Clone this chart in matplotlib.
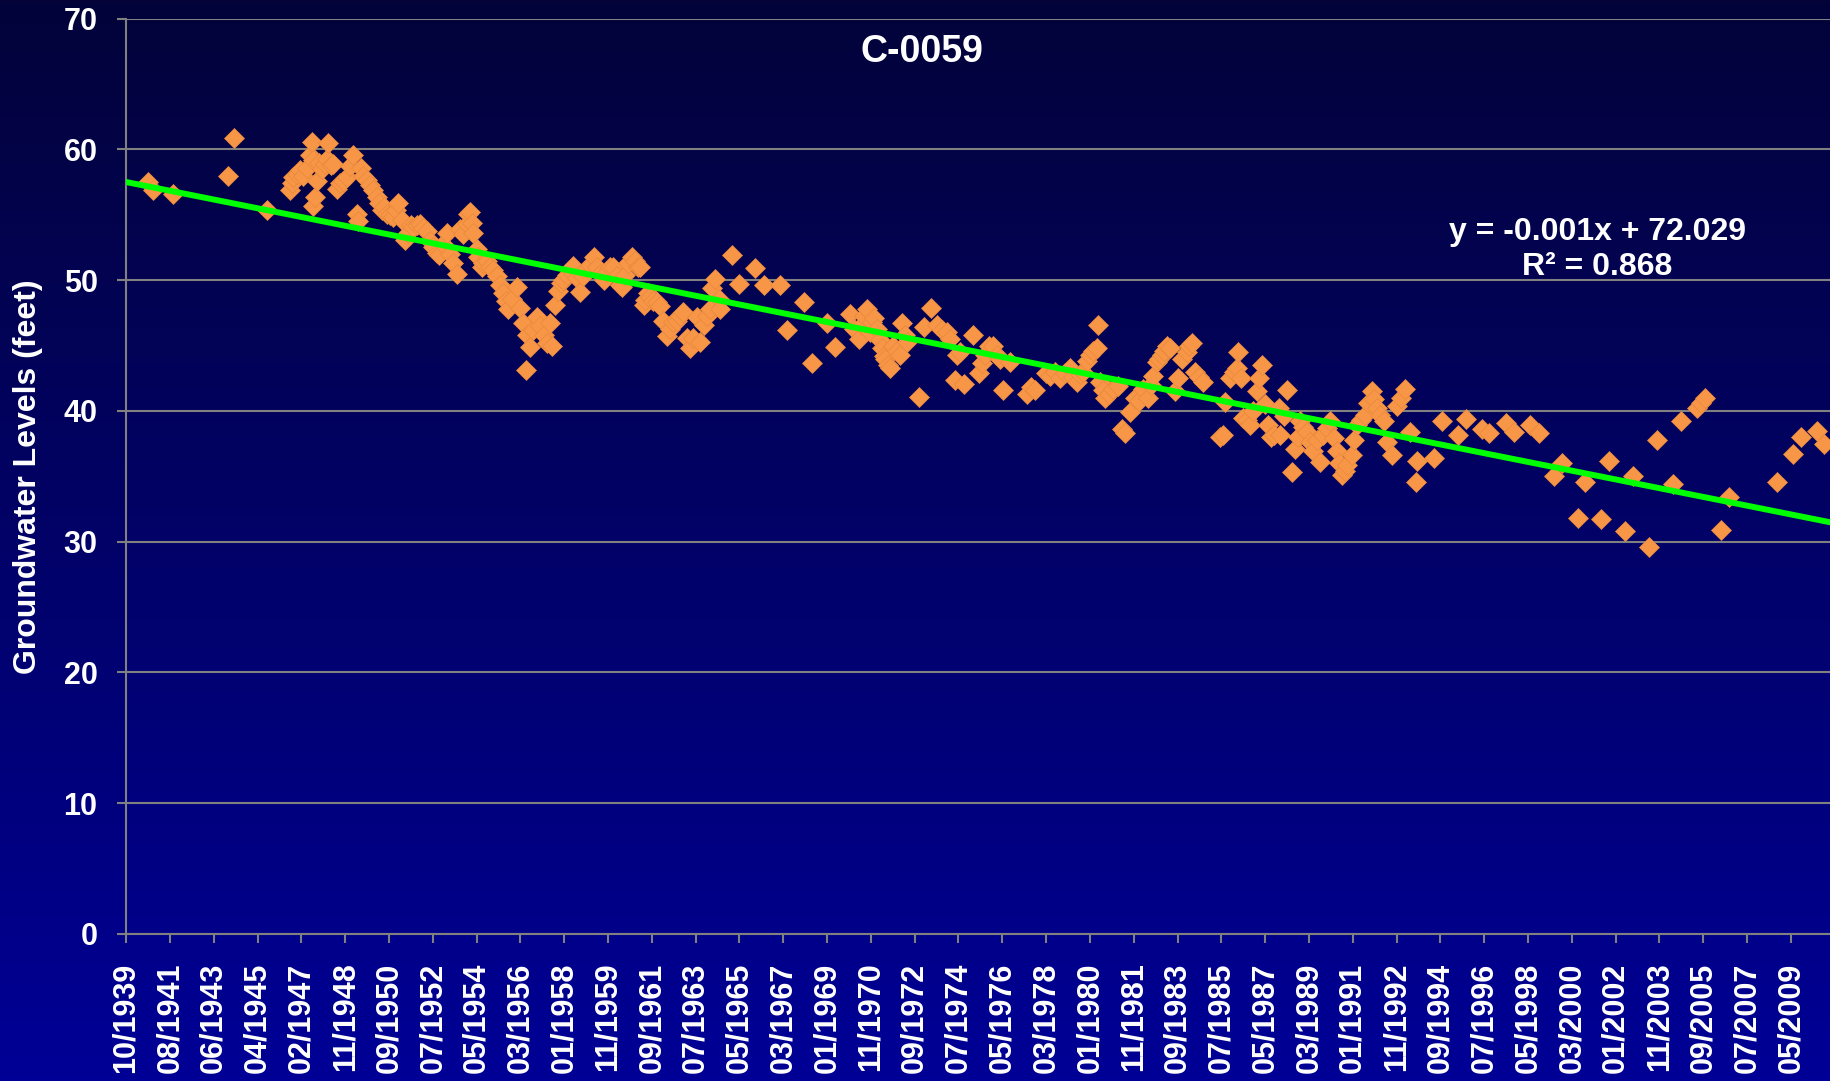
import numpy as np
import pandas as pd
import matplotlib
matplotlib.use('Agg')
import matplotlib.pyplot as plt
import matplotlib.dates as mdates
from matplotlib.colors import LinearSegmentedColormap
from datetime import datetime, timedelta

plt.rcParams['font.family'] = ['Liberation Sans', 'DejaVu Sans']
plt.rcParams['font.weight'] = 'bold'

# Niveles de agua subterránea (año decimal, pies)
years = [
    1940.68, 1940.89, 1941.70, 1944.02, 1944.28, 1945.63,
    1946.60, 1946.67, 1946.74, 1946.88, 1947.02, 1947.15, 1947.30, 1947.44, 1947.51, 1947.58,
    1947.58, 1947.65, 1947.72, 1947.80, 1947.95, 1948.08, 1948.14, 1948.21, 1948.30, 1948.41,
    1948.55, 1948.69, 1948.83, 1948.97, 1949.11, 1949.25, 1949.39, 1949.46, 1949.55, 1949.67,
    1949.81, 1949.95, 1950.09, 1950.23, 1950.34, 1950.44, 1950.54, 1950.64, 1950.78, 1950.92,
    1951.02, 1951.13, 1951.27, 1951.41, 1951.55, 1951.66, 1951.76, 1951.90, 1952.04, 1952.18,
    1952.32, 1952.46, 1952.60, 1952.73, 1952.81, 1953.00, 1953.15, 1953.29, 1953.43, 1953.57,
    1953.71, 1953.85, 1953.99, 1954.06, 1954.13, 1954.20, 1954.27, 1954.41, 1954.48, 1954.62,
    1954.69, 1954.83, 1954.97, 1955.10, 1955.24, 1955.38, 1955.52, 1955.62, 1955.73, 1955.90,
    1956.08, 1956.22, 1956.36, 1956.47, 1956.50, 1956.64, 1956.78, 1956.92, 1957.05, 1957.20,
    1957.33, 1957.47, 1957.55, 1957.68, 1957.82, 1957.93, 1958.03, 1958.17, 1958.31, 1958.45,
    1958.59, 1958.73, 1958.87, 1959.01, 1959.15, 1959.29, 1959.43, 1959.57, 1959.71, 1959.85,
    1960.00, 1960.12, 1960.26, 1960.40, 1960.47, 1960.61, 1960.75, 1960.89, 1961.03, 1961.15,
    1961.24, 1961.38, 1961.45, 1961.58, 1961.65, 1961.79, 1961.93, 1962.07, 1962.21, 1962.35,
    1962.49, 1962.63, 1962.77, 1962.91, 1963.05, 1963.20, 1963.33, 1963.47, 1963.61, 1963.75,
    1963.89, 1964.03, 1964.17, 1964.24, 1964.38, 1964.52, 1964.59,
    1965.07, 1965.39, 1966.05, 1966.40, 1967.07, 1967.40, 1968.07, 1968.42, 1969.05, 1969.39,
    1970.02, 1970.20, 1970.37, 1970.50, 1970.58, 1970.72, 1970.86, 1970.93, 1971.00, 1971.14,
    1971.25, 1971.35, 1971.42, 1971.49, 1971.62, 1971.69, 1971.83, 1971.97, 1972.11, 1972.18,
    1972.30, 1972.39, 1972.91, 1973.09, 1973.39, 1973.65, 1973.85, 1974.06, 1974.20, 1974.41,
    1974.48, 1974.62, 1974.76, 1975.15, 1975.39, 1975.53, 1975.67, 1975.81,
    1976.01, 1976.15, 1976.29, 1976.43, 1976.71, 1977.40, 1977.60, 1977.75, 1978.20, 1978.38,
    1978.60, 1978.80, 1979.00, 1979.21, 1979.35, 1979.49, 1979.63, 1979.77, 1979.91, 1980.05,
    1980.19, 1980.33, 1980.40, 1980.47, 1980.58, 1980.68, 1980.85, 1981.03, 1981.20, 1981.40,
    1981.50, 1981.72, 1981.93, 1982.10, 1982.28, 1982.49, 1982.60, 1982.70, 1982.84, 1982.95,
    1983.05, 1983.15, 1983.26, 1983.40, 1983.61, 1983.74, 1983.90, 1984.09, 1984.20, 1984.30,
    1984.44, 1984.60, 1984.79, 1985.49, 1985.60, 1985.70, 1985.90, 1986.05, 1986.18, 1986.25,
    1986.35, 1986.46, 1986.60, 1986.74, 1986.88, 1987.02, 1987.13, 1987.23, 1987.37, 1987.51,
    1987.62, 1987.72, 1987.93,
    1988.00, 1988.14, 1988.28, 1988.49, 1988.63, 1988.74, 1988.84, 1988.97, 1989.11, 1989.25,
    1989.39, 1989.53, 1989.67, 1989.81, 1989.95, 1990.09, 1990.23, 1990.37, 1990.47, 1990.58,
    1990.69, 1990.79, 1991.00, 1991.10, 1991.21, 1991.38, 1991.55, 1991.69, 1991.83, 1991.94,
    1992.04, 1992.18, 1992.32, 1992.46, 1992.67, 1992.88, 1993.05, 1993.23, 1993.44, 1993.67,
    1993.71, 1994.41, 1994.76, 1995.43, 1995.75, 1996.43, 1996.75, 1997.45, 1997.76, 1998.45,
    1998.80, 1999.43, 1999.78,
    2000.47, 2000.75, 2001.42, 2001.76, 2002.42, 2002.77, 2003.42, 2003.77, 2004.41, 2004.76,
    2005.42, 2005.58, 2005.74, 2006.43, 2006.78, 2008.76, 2009.42, 2009.76, 2010.43, 2010.74,
]
levels = [
    57.5, 56.9, 56.6, 58.0, 60.9, 55.4,
    56.9, 57.4, 57.9, 58.1, 58.4, 58.0, 58.6, 59.6, 60.6, 59.2,
    55.7, 56.4, 57.6, 59.0, 58.5, 58.9, 59.3, 60.5, 58.8, 58.9,
    57.0, 57.4, 57.6, 57.9, 58.7, 59.6, 55.1, 54.5, 58.6, 58.0,
    57.7, 57.3, 56.9, 56.4, 55.9, 55.4, 55.6, 55.1, 55.0, 54.8,
    55.4, 55.9, 54.6, 53.05, 53.6, 54.2, 54.1, 54.2, 54.3, 54.0,
    53.8, 53.0, 52.55, 52.1, 51.9, 52.8, 53.6, 52.0, 51.3, 50.5,
    53.9, 53.5, 54.3, 55.1, 55.2, 54.4, 53.6, 52.4, 51.8, 51.0,
    51.3, 51.5, 51.0, 50.8, 50.3, 49.6, 49.0, 48.4, 47.8, 48.6,
    49.5, 47.9, 46.7, 43.1, 45.8, 44.9, 46.2, 47.2, 46.5, 45.8,
    45.2, 46.7, 45.0, 48.1, 49.2, 49.8, 50.0, 50.4, 50.8, 51.1,
    50.2, 49.1, 50.3, 50.9, 51.2, 51.8, 51.0, 50.5, 50.0, 50.6,
    51.0, 51.0, 50.3, 49.6, 49.5, 50.4, 51.3, 51.8, 51.5, 51.0,
    51.0, 48.1, 48.5, 49.0, 48.7, 48.4, 48.35, 48.0, 46.9, 45.7,
    46.3, 46.8, 46.9, 47.3, 47.6, 45.6, 44.8, 45.6, 47.2, 45.3,
    46.55, 47.3, 47.8, 49.4, 50.1, 48.6, 47.8,
    51.9, 49.7, 50.9, 49.6, 49.6, 46.2, 48.3, 43.7, 46.7, 44.9,
    47.4, 46.3, 45.5, 46.6, 47.3, 47.8, 46.05, 46.8, 47.1, 46.3,
    45.4, 44.8, 44.2, 44.0, 43.5, 43.25, 45.0, 44.6, 44.3, 46.7,
    45.8, 45.3, 41.1, 46.4, 47.9, 46.55, 46.2, 46.05, 45.5, 42.35,
    44.3, 44.5, 42.1, 45.8, 42.9, 43.7, 44.3, 45.0,
    45.0, 44.3, 44.0, 41.6, 43.75, 41.3, 41.8, 41.6, 42.9, 42.7,
    43.0, 42.5, 42.9, 43.3, 42.6, 42.2, 42.8, 43.0, 43.8, 44.3,
    44.6, 44.8, 46.6, 42.2, 41.6, 41.0, 41.3, 41.7, 41.9, 38.6,
    38.3, 39.9, 41.0, 40.8, 41.7, 41.0, 42.0, 42.7, 43.75, 44.0,
    44.3, 44.6, 45.0, 44.8, 41.5, 42.5, 44.0, 44.5, 45.0, 45.2,
    43.0, 42.6, 42.2, 38.0, 38.2, 40.7, 42.5, 43.0, 43.25, 44.5,
    42.5, 39.5, 39.3, 38.9, 40.0, 41.5, 42.5, 43.5, 40.5, 38.9,
    38.0, 38.15, 40.2,
    38.15, 39.6, 41.6, 35.3, 37.1, 38.0, 39.2, 38.8, 38.4, 37.6,
    36.9, 37.8, 36.1, 38.15, 38.7, 39.2, 37.9, 36.9, 36.0, 35.1,
    35.4, 35.9, 36.6, 37.8, 38.9, 39.3, 39.7, 40.6, 41.5, 40.9,
    40.2, 39.7, 39.2, 37.6, 36.6, 40.4, 41.0, 41.7, 38.4, 34.6,
    36.2, 36.4, 39.2, 38.15, 39.4, 38.65, 38.3, 39.1, 38.4, 38.9,
    38.3, 35.0, 36.0,
    31.8, 34.6, 31.7, 36.2, 30.8, 35.0, 29.6, 37.8, 34.4, 39.2,
    40.2, 40.6, 41.0, 30.9, 33.4, 34.6, 36.7, 38.0, 38.5, 37.5,
]

# Etiquetas del eje X tal como aparecen en el gráfico
tick_labels = [
    '10/1939', '08/1941', '06/1943', '04/1945', '02/1947', '11/1948', '09/1950', '07/1952',
    '05/1954', '03/1956', '01/1958', '11/1959', '09/1961', '07/1963', '05/1965', '03/1967',
    '01/1969', '11/1970', '09/1972', '07/1974', '05/1976', '03/1978', '01/1980', '11/1981',
    '09/1983', '07/1985', '05/1987', '03/1989', '01/1991', '11/1992', '09/1994', '07/1996',
    '05/1998', '03/2000', '01/2002', '11/2003', '09/2005', '07/2007', '05/2009',
]

# Línea de tendencia de Excel (x = número de serie de fecha)
trend_slope = -0.001
trend_intercept = 72.029
trend_label = ['y = -0.001x + 72.029', 'R² = 0.868']

# Eje de fechas: una marca cada 669 días desde 10/1939
start_date = datetime(1939, 10, 1)
tick_step_days = 669
end_date = start_date + timedelta(days=26020)

dates = pd.to_datetime('1939-01-01') + pd.to_timedelta((np.array(years) - 1939) * 365.25, unit='D')

fig = plt.figure(figsize=(18.3, 10.81), dpi=100)

# Fondo degradado
bg = fig.add_axes([0, 0, 1, 1])
cmap = LinearSegmentedColormap.from_list('fondo', ['#03033A', '#000096'])
bg.imshow(np.linspace(0, 1, 256).reshape(-1, 1), cmap=cmap, aspect='auto', extent=[0, 1, 0, 1])
bg.axis('off')

ax = fig.add_axes([0.0689, 0.136, 1 - 0.0689, 0.9827 - 0.136], facecolor='none')

ax.plot(dates, levels, linestyle='none', marker='D', markersize=9.8,
        markerfacecolor='#F79646', markeredgecolor='#E8883C', markeredgewidth=0.5, zorder=3)

# Tendencia
tx = pd.to_datetime([start_date, end_date])
serial = mdates.date2num(tx) + 25569
ax.plot(tx, trend_slope * serial + trend_intercept, color='#00FF00', linewidth=4.3, zorder=4)

ticks = [start_date + timedelta(days=tick_step_days * i) for i in range(len(tick_labels))]
ax.set_xticks(ticks)
ax.set_xticklabels(tick_labels, rotation=90)
ax.set_xlim(start_date, end_date)

ax.set_ylim(0, 70)
ax.set_yticks(range(0, 71, 10))

ax.grid(True, axis='y', color='#808080', linewidth=1.5)
ax.set_axisbelow(True)
for side in ['top', 'right']:
    ax.spines[side].set_visible(False)
for side in ['left', 'bottom']:
    ax.spines[side].set_color('#808080')
    ax.spines[side].set_linewidth(1.5)

ax.tick_params(axis='both', colors='#808080', length=6.5, width=1.5, pad=14)
ax.tick_params(axis='x', labelcolor='white', labelsize=22)
ax.tick_params(axis='y', labelcolor='white', labelsize=22)

fig.text(0.504, 0.9515, 'C-0059', color='white', fontsize=27, fontweight='bold',
         ha='center', va='center')
fig.text(0.0155, 0.559, 'Groundwater Levels (feet)', color='white', fontsize=23,
         fontweight='bold', rotation=90, ha='center', va='center')
fig.text(0.8727, 0.7858, trend_label[0], color='white', fontsize=23, fontweight='bold',
         ha='center', va='center')
fig.text(0.8727, 0.7528, trend_label[1], color='white', fontsize=23, fontweight='bold',
         ha='center', va='center')

fig.savefig('out.png', dpi=100)
